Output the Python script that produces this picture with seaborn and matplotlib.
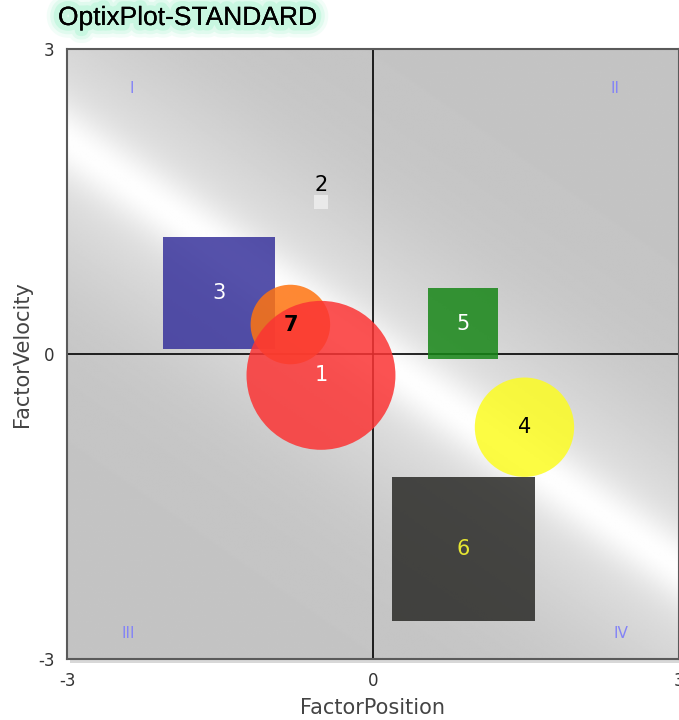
import numpy as np
import pandas as pd
import matplotlib
matplotlib.use("Agg")
import matplotlib.pyplot as plt
import matplotlib.patheffects as pe
from matplotlib.patches import Rectangle
import seaborn as sns

# Bubble data (listed in drawing order, bottom to top)
labels = ["3", "2", "5", "6", "4", "7", "1"]
factor_position = [-1.51, -0.51, 0.88, 0.885, 1.485, -0.81, -0.51]
factor_velocity = [0.60, 1.495, 0.30, -1.92, -0.72, 0.29, -0.21]
# circle radius / square half side, in data units
half_size = [0.545, 0.07, 0.345, 0.703, 0.487, 0.39, 0.73]
shapes = ["square", "square", "square", "square", "circle", "circle", "circle"]
fill_colors = ["#38339c", "#eeeeee", "#178617", "#2a2a27", "#fcfc22", "#ff7410", "#fb3434"]
label_colors = ["white", "black", "white", "#e6e632", "black", "black", "white"]

quadrant_names = ["I", "II", "III", "IV"]
ticks = [-3, 0, 3]

df = pd.DataFrame({"x": factor_position, "y": factor_velocity, "label": labels,
                   "shape": shapes, "half": half_size})

sns.set_style("white")
plt.rcParams["font.family"] = ["DejaVu Sans"]

fig = plt.figure(figsize=(6.79, 7.2), dpi=100)
ax = fig.add_axes([67 / 679, 61 / 720, 612 / 679, 610 / 720])
ax.set_xlim(-3, 3)
ax.set_ylim(-3, 3)

# soft shadow behind the frame
fig.patches.append(Rectangle((70 / 679, 57 / 720), 612 / 679, 610 / 720,
                             transform=fig.transFigure, facecolor="#d8d8d8",
                             edgecolor="none", zorder=-1))

# background: grey with a white highlight band along y = -0.7x
gx, gy = np.meshgrid(np.linspace(-3, 3, 400), np.linspace(-3, 3, 400))
d = (gy + 0.7 * gx) / np.sqrt(1 + 0.7 ** 2)
t = 0.5 * np.exp(-(d / 0.3) ** 2) + 0.5 * np.exp(-(d / 1.1) ** 2)
shade = (196 + (254 - 196) * t) / 255.0
ax.imshow(shade, extent=(-3, 3, -3, 3), origin="lower", cmap="gray",
          vmin=0, vmax=1, aspect="auto", zorder=0, interpolation="bilinear")

# centre cross
ax.axhline(0, color="black", lw=1.2, zorder=1)
ax.axvline(0, color="black", lw=1.2, zorder=1)

# marker sizes from data units -> points
pt_per_unit = (ax.transData.transform((1, 0))[0] - ax.transData.transform((0, 0))[0]) * 72 / fig.dpi
sizes = (2 * df["half"] * pt_per_unit) ** 2

sns.scatterplot(data=df, x="x", y="y", hue="label",
                palette=dict(zip(labels, fill_colors)),
                style="shape", markers={"circle": "o", "square": "s"},
                s=sizes, alpha=0.85, linewidth=0, legend=False, ax=ax, zorder=2)

for lab, x, y, c in zip(labels, factor_position, factor_velocity, label_colors):
    if lab == "2":
        ax.annotate(lab, (x, y), xytext=(0, 12.5), textcoords="offset points",
                    ha="center", va="center", fontsize=15, color=c, zorder=3)
    else:
        ax.text(x, y, lab, ha="center", va="center", fontsize=15, color=c,
                fontweight="bold" if lab == "7" else "normal", zorder=3)

quad_pos = [(0.105, 0.936), (0.895, 0.936), (0.100, 0.041), (0.905, 0.041)]
for name, (qx, qy) in zip(quadrant_names, quad_pos):
    ax.text(qx, qy, name, transform=ax.transAxes, ha="center", va="center",
            fontsize=11, color="#8484f6", zorder=3)

ax.set_xticks(ticks)
ax.set_yticks(ticks)
ax.set_xticklabels([str(v) for v in ticks])
ax.set_yticklabels([str(v) for v in ticks])
ax.tick_params(direction="out", length=6, width=1, color="#888888",
               labelsize=12, labelcolor="#333333", pad=3)
for side in ["left", "right", "top", "bottom"]:
    ax.spines[side].set_color("#5a5a5a")
    ax.spines[side].set_linewidth(1.5)

ax.set_xlabel("FactorPosition", fontsize=15, color="#444444", labelpad=6)
ax.set_ylabel("FactorVelocity", fontsize=15, color="#444444", labelpad=4)

glow = [pe.withStroke(linewidth=w, foreground="#bff6dc", alpha=a)
        for w, a in [(18, 0.2), (13, 0.35), (8, 0.7)]] + [pe.Normal()]
fig.text(58 / 679, 1 - 18 / 720, "OptixPlot-STANDARD", fontsize=19,
         family="Liberation Sans", color="black", ha="left", va="center",
         path_effects=glow)

fig.savefig("out.png", dpi=100)
